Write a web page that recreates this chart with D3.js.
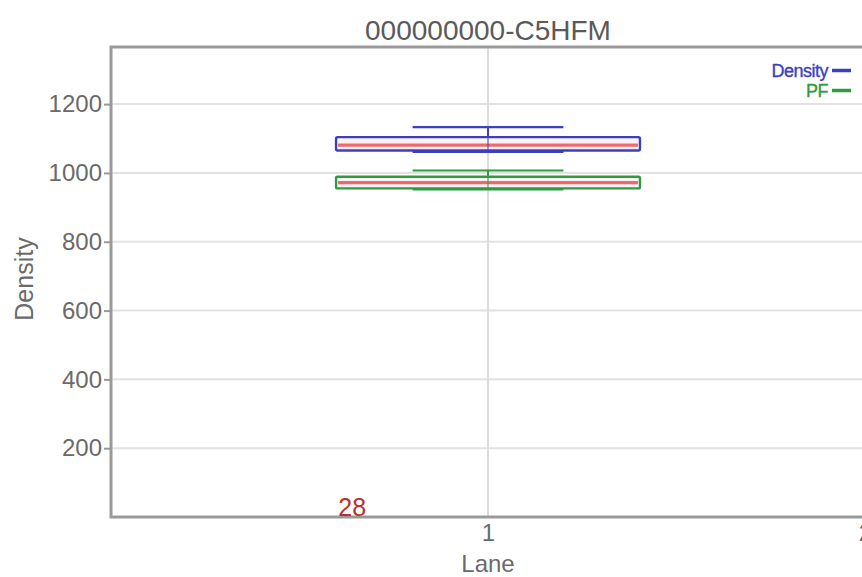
<!DOCTYPE html>
<html><head><meta charset="utf-8">
<script src="https://cdn.jsdelivr.net/npm/d3@7"></script>
<style>body{margin:0;background:#fff}svg{display:block}text{font-family:"Liberation Sans",Arial,sans-serif}</style>
</head><body><svg id="c" width="862" height="577"></svg>
<script>
const title = "000000000-C5HFM";
const lanes = [1];
const seriesNames = ["Density", "PF"];
const seriesColors = ["#3b3fc0", "#2f9a40"];
// [whiskerLow, q1, median, q3, whiskerHigh]
const densityStats = [1062, 1065, 1081, 1104, 1133];
const pfStats = [953, 955, 972, 989, 1007];
const yTicks = [200, 400, 600, 800, 1000, 1200];
const xTicks = [1, 2];
const countLabel = "28";

const svg = d3.select("#c");
const m = {l:111, t:47, b:517, r:866};
const x = d3.scaleLinear().domain([0,2]).range([m.l, m.l + 2*377]);
const y = d3.scaleLinear().domain([0,1366]).range([m.b, m.t]);
const grey = "#6a6a6a";

// grid
svg.append("g").selectAll("line").data(yTicks).join("line")
  .attr("x1", m.l).attr("x2", 862).attr("y1", d=>y(d)).attr("y2", d=>y(d))
  .attr("stroke", "#e2e2e2").attr("stroke-width", 2);
svg.append("g").selectAll("line").data(xTicks).join("line")
  .attr("x1", d=>x(d)).attr("x2", d=>x(d)).attr("y1", m.t).attr("y2", m.b)
  .attr("stroke", "#dcdcdc").attr("stroke-width", 2);

// frame
svg.append("rect").attr("x", m.l).attr("y", m.t).attr("width", m.r - m.l).attr("height", m.b - m.t)
  .attr("fill", "none").attr("stroke", "#9a9a9a").attr("stroke-width", 3);

// axes
const ya = d3.axisLeft(y).tickValues(yTicks).tickSize(7).tickPadding(2).tickFormat(d3.format("d"));
const yg = svg.append("g").attr("transform", `translate(${m.l},0)`).call(ya);
yg.select(".domain").remove();
yg.selectAll(".tick line").attr("stroke", "#999").attr("stroke-width", 2);
yg.selectAll(".tick text").attr("fill", grey).attr("font-size", 24).attr("font-family", "Liberation Sans, Arial");

const xa = d3.axisBottom(x).tickValues(xTicks).tickSize(0).tickPadding(7).tickFormat(d3.format("d"));
const xg = svg.append("g").attr("transform", `translate(0,${m.b})`).call(xa);
xg.select(".domain").remove();
xg.selectAll(".tick text").attr("fill", grey).attr("font-size", 24).attr("font-family", "Liberation Sans, Arial");

// labels
svg.append("text").attr("x", x(1)).attr("y", 40).attr("text-anchor", "middle")
  .attr("font-size", 28).attr("fill", "#5a5a5a").text(title);
svg.append("text").attr("x", x(1)).attr("y", 572).attr("text-anchor", "middle")
  .attr("font-size", 24).attr("fill", grey).text("Lane");
svg.append("text").attr("transform", `translate(33,${(m.t+m.b)/2 - 3}) rotate(-90)`).attr("text-anchor", "middle")
  .attr("font-size", 25).attr("fill", grey).text("Density");

// boxes
const boxes = [densityStats, pfStats];
const boxW = 0.806, capW = 0.4;
boxes.forEach((s, i) => {
  const c = seriesColors[i];
  const g = svg.append("g");
  const lane = lanes[0];
  g.append("line").attr("x1", x(lane)).attr("x2", x(lane)).attr("y1", y(s[4])).attr("y2", y(s[3]))
    .attr("stroke", c).attr("stroke-width", 2);
  [s[0], s[4]].forEach((v, k) => {
    g.append("line").attr("x1", x(lane - capW/2)).attr("x2", x(lane + capW/2))
      .attr("y1", y(v)).attr("y2", y(v)).attr("stroke", c).attr("stroke-width", k===0?3:2.2);
  });
  g.append("rect").attr("x", x(lane - boxW/2)).attr("y", y(s[3]))
    .attr("width", x(lane + boxW/2) - x(lane - boxW/2)).attr("height", y(s[1]) - y(s[3]))
    .attr("fill", "#fdf2f2").attr("fill-opacity", 0.9).attr("stroke", c).attr("stroke-width", 2.4).attr("rx", 1.5);
  g.append("line").attr("x1", x(lane - boxW/2) + 2).attr("x2", x(lane + boxW/2) - 2)
    .attr("y1", y(s[2])).attr("y2", y(s[2])).attr("stroke", "#ee6870").attr("stroke-width", 3.2);
  g.append("line").attr("x1", x(lane)).attr("x2", x(lane)).attr("y1", y(s[3])).attr("y2", y(s[0]))
    .attr("stroke", c).attr("stroke-opacity", 0.5).attr("stroke-width", 2);
});

// count label
svg.append("text").attr("x", x(0.64)).attr("y", 516).attr("text-anchor", "middle")
  .attr("font-size", 25).attr("fill", "#b5322f").text(countLabel);

// legend
seriesNames.forEach((n, i) => {
  const ly = 70.5 + i*20;
  svg.append("text").attr("x", 828).attr("y", ly + 6).attr("text-anchor", "end")
    .attr("font-size", 18).attr("letter-spacing", -0.5).attr("fill", seriesColors[i])
    .attr("stroke", seriesColors[i]).attr("stroke-width", 0.35).text(n);
  svg.append("line").attr("x1", 832).attr("x2", 851).attr("y1", ly).attr("y2", ly)
    .attr("stroke", seriesColors[i]).attr("stroke-width", 3.5);
});
</script></body></html>
